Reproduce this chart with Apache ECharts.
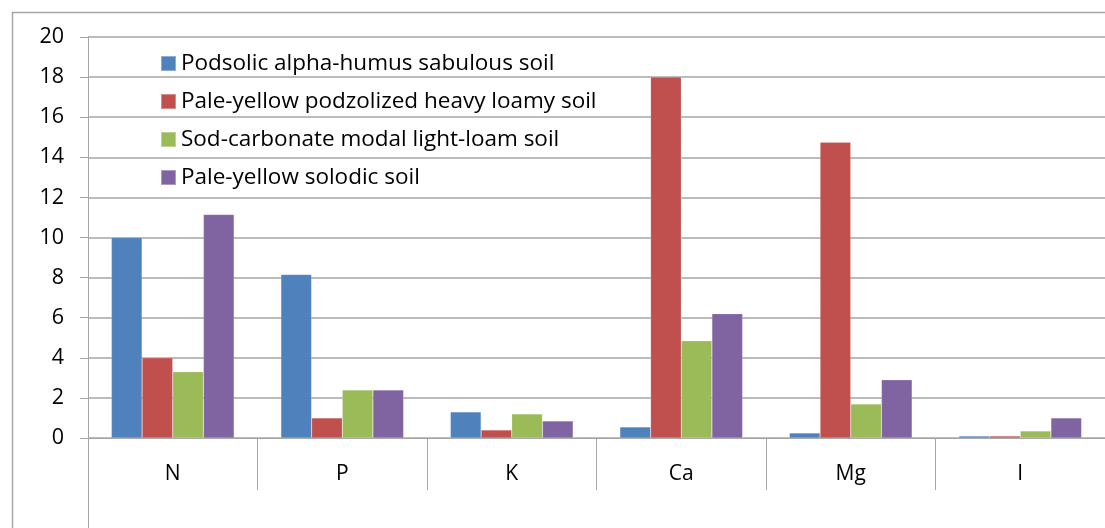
<!DOCTYPE html>
<html>
<head>
<meta charset="utf-8">
<script src="https://cdn.jsdelivr.net/npm/echarts@6/dist/echarts.min.js"></script>
<style>
    html, body {margin: 0; padding: 0; background: #fff;}
    #chart {width: 1105px; height: 528px;}
</style>
</head>
<body>
<div id="chart"></div>
<script>
// ------------------ data ------------------
let categories = ['N', 'P', 'K', 'Ca', 'Mg', 'I'];
let seriesNames = [
    'Podsolic alpha-humus sabulous soil',
    'Pale-yellow podzolized heavy loamy soil',
    'Sod-carbonate modal light-loam soil',
    'Pale-yellow solodic soil'
];
let podsolic = [10, 8.15, 1.3, 0.55, 0.25, 0.1];
let paleYellowPodzol = [4, 1, 0.4, 18, 14.75, 0.1];
let sodCarbonate = [3.3, 2.4, 1.2, 4.85, 1.7, 0.35];
let paleYellowSolodic = [11.15, 2.4, 0.85, 6.2, 2.9, 1];
let yTicks = [0, 20, 2]; // min, max, interval

let COLORS = ['#4F81BD', '#C0504D', '#9BBB59', '#8064A2'];
let FONT = 'Open Sans';
let GRID_COLOR = '#a6a6a6';

let myChart = echarts.init(document.getElementById('chart'));

function bar(name, data, i) {
    return {
        name: name,
        type: 'bar',
        data: data,
        barGap: 0,
        barCategoryGap: '27.6%',
        itemStyle: {color: COLORS[i], borderColor: 'rgba(255,255,255,0.35)', borderWidth: 0.5},
        emphasis: {disabled: true}
    };
}

let option = {
    animation: false,
    color: COLORS,
    grid: {left: 88, top: 37, right: -3, bottom: 90, containLabel: false},
    legend: {
        orient: 'vertical',
        left: 155,
        top: 47,
        itemWidth: 15,
        itemHeight: 15,
        itemGap: 15,
        icon: 'rect',
        data: seriesNames,
        textStyle: {fontFamily: FONT, fontSize: 22.5, color: '#000', lineHeight: 20}
    },
    xAxis: {
        type: 'category',
        data: categories,
        axisLine: {show: true, lineStyle: {color: GRID_COLOR, width: 1}},
        axisTick: {show: true, interval: 0, length: 52, lineStyle: {color: GRID_COLOR, width: 1}},
        axisLabel: {fontFamily: FONT, fontSize: 21, color: '#000', margin: 26}
    },
    yAxis: {
        type: 'value',
        min: yTicks[0],
        max: yTicks[1],
        interval: yTicks[2],
        axisLine: {show: true, lineStyle: {color: GRID_COLOR, width: 1}},
        axisTick: {show: true, length: 8, lineStyle: {color: GRID_COLOR, width: 1}},
        axisLabel: {fontFamily: FONT, fontSize: 21.5, color: '#000', margin: 24},
        splitLine: {show: true, lineStyle: {color: GRID_COLOR, width: 1.5}}
    },
    graphic: [
        // outer chart frame
        {type: 'rect', left: 10, top: 10, shape: {width: 1200, height: 700},
            style: {fill: 'none', stroke: '#a6a6a6', lineWidth: 1.5}, silent: true, z: -1},
        // y axis line continuing below the plot
        {type: 'line', shape: {x1: 88.5, y1: 438, x2: 88.5, y2: 528},
            style: {stroke: GRID_COLOR, lineWidth: 1}, silent: true}
    ],
    series: [
        bar(seriesNames[0], podsolic, 0),
        bar(seriesNames[1], paleYellowPodzol, 1),
        bar(seriesNames[2], sodCarbonate, 2),
        bar(seriesNames[3], paleYellowSolodic, 3)
    ]
};

myChart.setOption(option);
</script>
</body>
</html>
